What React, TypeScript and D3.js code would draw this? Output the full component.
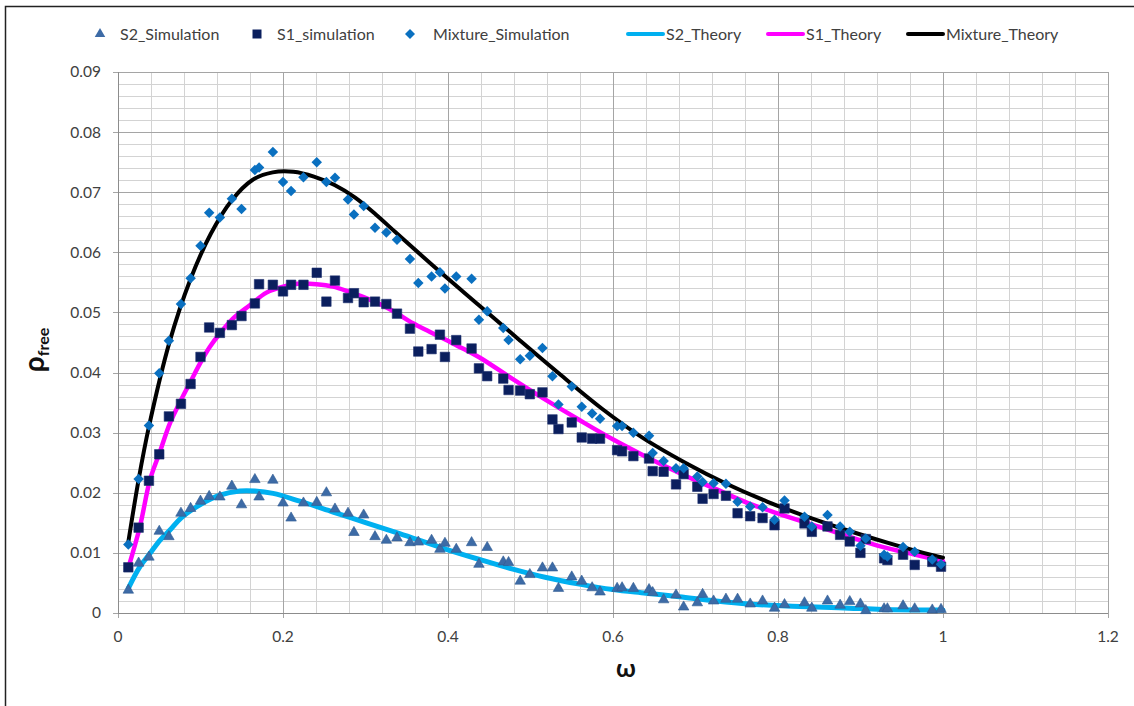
import React from "react";
import * as d3 from "d3";

type P = [number, number];

const xTicks = [0, 0.2, 0.4, 0.6, 0.8, 1, 1.2];
const yTicks = [0, 0.01, 0.02, 0.03, 0.04, 0.05, 0.06, 0.07, 0.08, 0.09];
const xTickLabels = ["0", "0.2", "0.4", "0.6", "0.8", "1", "1.2"];
const yTickLabels = ["0", "0.01", "0.02", "0.03", "0.04", "0.05", "0.06", "0.07", "0.08", "0.09"];

const s2Simulation: P[] = [
  [0.0125, 0.0038], [0.025, 0.0083], [0.0375, 0.0093], [0.05, 0.0136], [0.0617, 0.0127],
  [0.0763, 0.0166], [0.088, 0.0174], [0.1, 0.0186], [0.1105, 0.0194], [0.1235, 0.0193],
  [0.138, 0.0211], [0.1497, 0.018], [0.1659, 0.0222], [0.171, 0.0193], [0.1877, 0.0221],
  [0.2, 0.0183], [0.2098, 0.0158], [0.2248, 0.0183], [0.2409, 0.0184], [0.2526, 0.02],
  [0.263, 0.0173], [0.2788, 0.0166], [0.286, 0.0134], [0.2978, 0.0163], [0.3115, 0.0127],
  [0.3253, 0.0121], [0.3382, 0.0125], [0.3539, 0.0117], [0.364, 0.0118], [0.3801, 0.0121],
  [0.3902, 0.0106], [0.3963, 0.0116], [0.41, 0.0106], [0.4286, 0.0117], [0.4375, 0.0081],
  [0.4475, 0.0109], [0.467, 0.0085], [0.4734, 0.0084], [0.4875, 0.0053], [0.4992, 0.0064],
  [0.5145, 0.0075], [0.5266, 0.0075], [0.5339, 0.0041], [0.55, 0.006], [0.5621, 0.0053],
  [0.5747, 0.0042], [0.5843, 0.0035], [0.605, 0.0041], [0.611, 0.0042], [0.6247, 0.0041],
  [0.6437, 0.0039], [0.6481, 0.0034], [0.6614, 0.0022], [0.6764, 0.003], [0.6856, 0.001],
  [0.7022, 0.0017], [0.7086, 0.0031], [0.7219, 0.002], [0.7369, 0.0023], [0.751, 0.0023],
  [0.7663, 0.0015], [0.7813, 0.002], [0.7958, 0.0008], [0.8079, 0.0014], [0.8321, 0.0017],
  [0.841, 0.0008], [0.86, 0.002], [0.8753, 0.0013], [0.887, 0.0019], [0.8999, 0.0015],
  [0.9064, 0.0004], [0.9286, 0.0007], [0.9326, 0.0007], [0.9516, 0.0012], [0.9657, 0.0007],
  [0.987, 0.0005], [0.9976, 0.0006],
];

const s1Simulation: P[] = [
  [0.0125, 0.0076], [0.025, 0.0142], [0.0375, 0.022], [0.05, 0.0264], [0.0617, 0.0327],
  [0.0763, 0.0348], [0.088, 0.0381], [0.1, 0.0426], [0.1105, 0.0475], [0.1235, 0.0466],
  [0.138, 0.0479], [0.1497, 0.0494], [0.1659, 0.0515], [0.171, 0.0547], [0.1877, 0.0546],
  [0.2, 0.0535], [0.2098, 0.0546], [0.2248, 0.0546], [0.2409, 0.0566], [0.2526, 0.0518],
  [0.263, 0.0553], [0.2788, 0.0524], [0.286, 0.0532], [0.2978, 0.0517], [0.3115, 0.0518],
  [0.3253, 0.0514], [0.3382, 0.0498], [0.3539, 0.0473], [0.364, 0.0435], [0.3801, 0.0439],
  [0.3902, 0.0463], [0.3963, 0.0426], [0.41, 0.0454], [0.4286, 0.044], [0.4375, 0.0407],
  [0.4475, 0.0394], [0.467, 0.039], [0.4734, 0.0371], [0.4875, 0.037], [0.4992, 0.0364],
  [0.5145, 0.0367], [0.5266, 0.0322], [0.5339, 0.0306], [0.55, 0.0317], [0.5621, 0.0292],
  [0.5747, 0.029], [0.5843, 0.029], [0.605, 0.0271], [0.611, 0.0269], [0.6247, 0.0261],
  [0.6437, 0.0257], [0.6481, 0.0236], [0.6614, 0.0235], [0.6764, 0.0214], [0.6856, 0.0231],
  [0.7022, 0.021], [0.7086, 0.019], [0.7219, 0.0198], [0.7369, 0.0195], [0.751, 0.0166],
  [0.7663, 0.0161], [0.7813, 0.0158], [0.7958, 0.0146], [0.8079, 0.0174], [0.8321, 0.0149],
  [0.841, 0.0135], [0.86, 0.0144], [0.8753, 0.013], [0.887, 0.0119], [0.8999, 0.01],
  [0.9064, 0.0123], [0.9286, 0.0091], [0.9326, 0.0088], [0.9516, 0.0097], [0.9657, 0.008],
  [0.987, 0.0085], [0.9976, 0.0077],
];

const mixtureSimulation: P[] = [
  [0.0125, 0.0114], [0.025, 0.0223], [0.0375, 0.0312], [0.05, 0.0399], [0.0617, 0.0453],
  [0.0763, 0.0514], [0.088, 0.0557], [0.1, 0.0611], [0.1105, 0.0666], [0.1235, 0.0658],
  [0.138, 0.0689], [0.1497, 0.0672], [0.1659, 0.0737], [0.171, 0.0741], [0.1877, 0.0767],
  [0.2, 0.0717], [0.2098, 0.0702], [0.2248, 0.0725], [0.2409, 0.075], [0.2526, 0.0717],
  [0.263, 0.0724], [0.2788, 0.0688], [0.286, 0.0663], [0.2978, 0.0677], [0.3115, 0.0641],
  [0.3253, 0.0633], [0.3382, 0.0621], [0.3539, 0.0589], [0.364, 0.0549], [0.3801, 0.056],
  [0.3902, 0.0567], [0.3963, 0.054], [0.41, 0.056], [0.4286, 0.0556], [0.4375, 0.0488],
  [0.4475, 0.0502], [0.467, 0.0474], [0.4734, 0.0454], [0.4875, 0.0422], [0.4992, 0.0428],
  [0.5145, 0.0441], [0.5266, 0.0394], [0.5339, 0.0347], [0.55, 0.0377], [0.5621, 0.0343],
  [0.5747, 0.0332], [0.5843, 0.0323], [0.605, 0.0311], [0.611, 0.0311], [0.6247, 0.03],
  [0.6437, 0.0295], [0.6481, 0.0266], [0.6614, 0.0253], [0.6764, 0.0241], [0.6856, 0.0241],
  [0.7022, 0.0227], [0.7086, 0.0218], [0.7219, 0.0216], [0.7369, 0.0215], [0.751, 0.0185],
  [0.7663, 0.0177], [0.7813, 0.0176], [0.7958, 0.0155], [0.8079, 0.0187], [0.8321, 0.016],
  [0.841, 0.0144], [0.86, 0.0163], [0.8753, 0.0144], [0.887, 0.0135], [0.8999, 0.0112],
  [0.9064, 0.0124], [0.9286, 0.0097], [0.9326, 0.0094], [0.9516, 0.011], [0.9657, 0.0102],
  [0.987, 0.0089], [0.9976, 0.0081],
];

const s2Theory: P[] = [
  [0.0125, 0.0041], [0.0266, 0.0077], [0.0387, 0.0099], [0.0508, 0.0121], [0.063, 0.0138],
  [0.0763, 0.0158], [0.0993, 0.018], [0.1235, 0.0196], [0.1477, 0.0203], [0.1659, 0.0203],
  [0.188, 0.0199], [0.2203, 0.0186], [0.2607, 0.0168], [0.301, 0.015], [0.3414, 0.0132],
  [0.3979, 0.0106], [0.4383, 0.0089], [0.4786, 0.0073], [0.519, 0.0059], [0.5593, 0.0048],
  [0.5997, 0.0039], [0.64, 0.0033], [0.6804, 0.0027], [0.7248, 0.002], [0.7651, 0.0015],
  [0.8055, 0.0012], [0.8459, 0.001], [0.8862, 0.0008], [0.9265, 0.0006], [1.0, 0.0005],
];

const s1Theory: P[] = [
  [0.0125, 0.0075], [0.0266, 0.0144], [0.0387, 0.0221], [0.0508, 0.0268], [0.063, 0.0316],
  [0.0763, 0.0354], [0.088, 0.0385], [0.0993, 0.0415], [0.1114, 0.0443], [0.1235, 0.0465],
  [0.1396, 0.049], [0.1598, 0.0512], [0.18, 0.0533], [0.2001, 0.0543], [0.2203, 0.0548],
  [0.2405, 0.0547], [0.2607, 0.0543], [0.2809, 0.0534], [0.297, 0.0526], [0.3172, 0.0514],
  [0.3374, 0.0499], [0.3575, 0.0482], [0.3777, 0.0468], [0.3979, 0.0454], [0.418, 0.044],
  [0.4383, 0.0425], [0.4786, 0.0389], [0.519, 0.0354], [0.5593, 0.0321], [0.5997, 0.0289],
  [0.64, 0.026], [0.6804, 0.0233], [0.7248, 0.0206], [0.7651, 0.0182], [0.8055, 0.0163],
  [0.8459, 0.0145], [0.8862, 0.0127], [0.9265, 0.011], [0.9669, 0.0097], [1.0, 0.0086],
];

const mixtureTheory: P[] = [
  [0.0125, 0.0118], [0.025, 0.0222], [0.0375, 0.031], [0.0625, 0.0451], [0.0875, 0.0554],
  [0.1125, 0.0631], [0.1375, 0.0686], [0.1625, 0.072], [0.1875, 0.0733], [0.2125, 0.0734],
  [0.2375, 0.0726], [0.2625, 0.0712], [0.2875, 0.0691], [0.3125, 0.0663], [0.3375, 0.0632],
  [0.3875, 0.0571], [0.4375, 0.0512], [0.4875, 0.0453], [0.5375, 0.0395], [0.5875, 0.0339],
  [0.6375, 0.029], [0.6875, 0.025], [0.7375, 0.0215], [0.7875, 0.0185], [0.8375, 0.0159],
  [0.8875, 0.0136], [0.9375, 0.0115], [0.9875, 0.0096], [1.0, 0.0092],
];

const FONT = "Lato, 'Open Sans', sans-serif";
const TEXT = "#404040";
const C_TRI = "#3d6ba6";
const C_SQ = "#0b1f5e";
const C_DIA = "#0a70c0";
const C_S2 = "#00b0f0";
const C_S1 = "#ff00ff";
const C_MIX = "#000000";

const W = 1134;
const H = 706;

export default function App() {
  const x = d3.scaleLinear().domain([0, 1.2]).range([118, 1108]);
  const y = d3.scaleLinear().domain([0, 0.09]).range([613, 72]);

  const line = d3
    .line<P>()
    .x((d) => x(d[0]))
    .y((d) => y(d[1]))
    .curve(d3.curveCatmullRom.alpha(0.5));

  const minorX = d3.range(0, 1.2001, 0.04);
  const minorY = d3.range(0, 0.09001, 0.002);

  const tri = d3.symbol().type(d3.symbolTriangle).size(48)()!;
  const sq = (s: number) => `M${-s / 2},${-s / 2}h${s}v${s}h${-s}Z`;
  const dia = (s: number) => `M0,${-s / 2}L${s / 2},0L0,${s / 2}L${-s / 2},0Z`;

  const legendY = 34;

  return (
    <svg
      width={W}
      height={H}
      style={{ position: "absolute", left: 0, top: 0, background: "#fff" }}
      fontFamily={FONT}
    >
      <rect x={0} y={0} width={W} height={H} fill="#fff" />
      <path d={`M5.5,${H + 5}V6.5H${W + 5}`} fill="none" stroke="#222" strokeWidth={1.5} />

      {/* minor gridlines */}
      {minorX.map((v, i) => (
        <line key={"mx" + i} x1={Math.round(x(v)) + 0.5} x2={Math.round(x(v)) + 0.5} y1={y(0.09)} y2={y(0)} stroke="#d3d3d3" strokeWidth={1} />
      ))}
      {minorY.map((v, i) => (
        <line key={"my" + i} y1={Math.round(y(v)) + 0.5} y2={Math.round(y(v)) + 0.5} x1={x(0)} x2={x(1.2)} stroke="#d3d3d3" strokeWidth={1} />
      ))}
      {/* major gridlines */}
      {xTicks.map((v, i) => (
        <line key={"gx" + i} x1={Math.round(x(v)) + 0.5} x2={Math.round(x(v)) + 0.5} y1={y(0.09)} y2={y(0) + 5} stroke="#a5a5a5" strokeWidth={1} />
      ))}
      {yTicks.map((v, i) => (
        <line key={"gy" + i} y1={Math.round(y(v)) + 0.5} y2={Math.round(y(v)) + 0.5} x1={x(0) - 5} x2={x(1.2)} stroke="#a5a5a5" strokeWidth={1} />
      ))}
      <line x1={x(0) + 0.5} x2={x(0) + 0.5} y1={y(0.09)} y2={y(0)} stroke="#8c8c8c" />
      <line x1={x(0)} x2={x(1.2)} y1={Math.round(y(0)) + 0.5} y2={Math.round(y(0)) + 0.5} stroke="#8c8c8c" />

      {/* tick labels */}
      {yTicks.map((v, i) => (
        <text key={"yl" + i} x={101} y={y(v)} dy="0.35em" textAnchor="end" fontSize={15.5} fill={TEXT}>
          {yTickLabels[i]}
        </text>
      ))}
      {xTicks.map((v, i) => (
        <text key={"xl" + i} x={x(v)} y={637} dy="0.35em" textAnchor="middle" fontSize={15.5} fill={TEXT}>
          {xTickLabels[i]}
        </text>
      ))}

      {/* axis titles */}
      <text x={626} y={668} dy="0.35em" textAnchor="middle" fontSize={25} fontWeight="bold" fill="#111">
        ω
      </text>
      <text transform="translate(44,350) rotate(-90)" textAnchor="middle" fontWeight="bold" fill="#111">
        <tspan fontSize={28}>ρ</tspan>
        <tspan fontSize={16} dy={5}>free</tspan>
      </text>

      {/* theory curves */}
      <path d={line(s2Theory)!} fill="none" stroke={C_S2} strokeWidth={5} strokeLinecap="round" strokeLinejoin="round" />
      <path d={line(s1Theory)!} fill="none" stroke={C_S1} strokeWidth={4.5} strokeLinecap="round" strokeLinejoin="round" />
      <path d={line(mixtureTheory)!} fill="none" stroke={C_MIX} strokeWidth={4} strokeLinecap="round" strokeLinejoin="round" />

      {/* simulation markers */}
      {s2Simulation.map((d, i) => (
        <path key={"t" + i} d={tri} transform={`translate(${x(d[0])},${y(d[1])})`} fill={C_TRI} stroke="#2f5b92" strokeWidth={0.6} />
      ))}
      {s1Simulation.map((d, i) => (
        <path key={"s" + i} d={sq(9.5)} transform={`translate(${x(d[0])},${y(d[1])})`} fill={C_SQ} stroke="#1c2f6e" strokeWidth={0.6} />
      ))}
      {mixtureSimulation.map((d, i) => (
        <path key={"d" + i} d={dia(10.5)} transform={`translate(${x(d[0])},${y(d[1])})`} fill={C_DIA} />
      ))}

      {/* legend */}
      <g fontSize={16} fill={TEXT}>
        <path d={tri} transform={`translate(100,${legendY})`} fill={C_TRI} />
        <text x={120} y={legendY} dy="0.35em">S2_Simulation</text>
        <path d={sq(9)} transform={`translate(257,${legendY})`} fill={C_SQ} />
        <text x={277} y={legendY} dy="0.35em">S1_simulation</text>
        <path d={dia(10)} transform={`translate(410,${legendY})`} fill={C_DIA} />
        <text x={433} y={legendY} dy="0.35em">Mixture_Simulation</text>

        <line x1={628} x2={663} y1={legendY} y2={legendY} stroke={C_S2} strokeWidth={4} strokeLinecap="round" />
        <text x={666} y={legendY} dy="0.35em">S2_Theory</text>
        <line x1={768} x2={803} y1={legendY} y2={legendY} stroke={C_S1} strokeWidth={4} strokeLinecap="round" />
        <text x={806} y={legendY} dy="0.35em">S1_Theory</text>
        <line x1={908} x2={943} y1={legendY} y2={legendY} stroke={C_MIX} strokeWidth={4} strokeLinecap="round" />
        <text x={946} y={legendY} dy="0.35em">Mixture_Theory</text>
      </g>
    </svg>
  );
}
